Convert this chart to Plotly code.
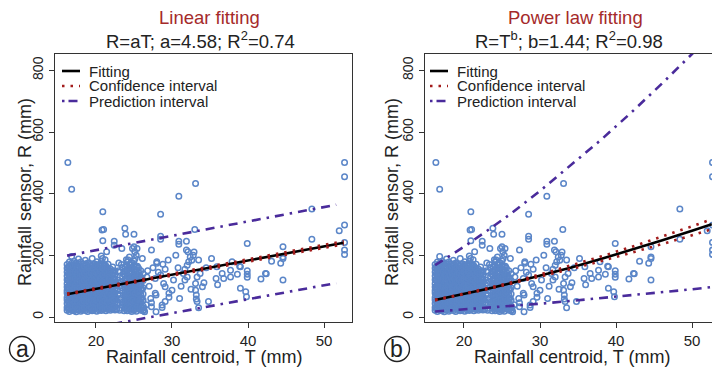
import plotly.graph_objects as go

# ---------------- data ----------------
# scattered observations (Rainfall centroid T, Rainfall sensor R)
sparse_T = [16.3, 16.8, 30.9, 33.1, 52.7, 52.7, 20.9, 20.8, 21.0, 20.9, 22.4, 22.4, 23.8, 23.9,
            25.0, 25.0, 25.1, 21.4, 21.2, 24.0, 23.4, 24.8, 25.4, 26.1, 28.5, 28.5, 28.5, 33.0,
            30.9, 30.9, 31.9, 31.9, 32.9, 32.4, 32.6, 32.2, 32.0, 28.0, 28.8, 29.1, 28.5, 27.3,
            27.8, 28.9, 29.1, 30.2, 27.9, 29.6, 29.6, 28.7, 28.7, 27.3, 27.3, 27.9, 31.5, 31.7,
            31.7, 33.1, 33.3, 33.2, 33.2, 33.1, 34.0, 34.2, 33.7, 35.8, 36.6, 36.8, 37.7, 37.7,
            38.6, 37.9, 38.9, 39.9, 39.0, 39.7, 39.8, 30.0, 35.9, 39.9, 39.9, 39.9, 41.7, 42.4,
            43.1, 44.3, 44.6, 44.6, 44.6, 48.4, 48.4, 52.0, 52.7, 52.7, 52.7, 52.7,
            32.1, 32.8, 33.5, 28.0, 26.7, 26.3, 26.4, 39.0, 42.3, 44.6, 26.3, 27.8, 29.1, 33.3,
            26.8, 27.0, 27.2, 26.6, 27.5, 28.2, 29.5, 30.5, 30.8, 31.2, 31.0, 32.5, 32.0, 34.5,
            35.2, 36.0, 34.8, 33.5,
            22.8, 22.9, 23.0, 23.1, 23.2, 23.3, 23.4, 23.5, 23.0, 23.5,
            22.75, 22.8, 22.85, 22.9, 23.0, 23.1, 23.2, 23.3, 23.4, 23.5, 23.6, 23.65, 23.7,
            23.6, 22.95, 23.35]
sparse_R = [501, 414, 392, 433, 501, 455, 341, 282, 284, 247, 246, 233, 288, 268,
            268, 228, 212, 212, 186, 186, 222, 222, 222, 190, 333, 262, 252, 284,
            246, 236, 246, 217, 211, 195, 184, 179, 168, 179, 171, 155, 136, 217,
            125, 109, 98, 120, 71, 77, 64, 39, 31, 46, 33, 17, 141, 155,
            120, 109, 130, 71, 58, 87, 98, 111, 141, 125, 141, 125, 152, 130,
            139, 179, 165, 238, 93, 82, 66, 87, 163, 150, 139, 129, 123, 140,
            181, 174, 228, 195, 120, 252, 350, 280, 298, 242, 217, 203,
            212, 200, 185, 174, 130, 29, 17, 163, 141, 190, 23, 77, 50, 50,
            150, 100, 60, 40, 160, 145, 185, 200, 160, 100, 60, 90, 130, 160,
            190, 105, 50, 30,
            40, 75, 110, 145, 28, 60, 95, 130, 175, 48,
            25, 60, 88, 120, 150, 22, 85, 115, 40, 160, 70, 105, 20,
            140, 45, 170]

# dense cluster of observations, read column by column: T value -> R values
cluster_T = [16.2, 16.5, 16.8, 17.1, 17.4, 17.7, 18.0, 18.3, 18.6, 18.9, 19.2, 19.5, 19.8,
             20.1, 20.4, 20.7, 21.0, 21.3, 21.6, 21.9, 22.2, 22.5,
             23.8, 24.1, 24.4, 24.7, 25.0, 25.3, 25.6, 25.9, 26.2,
             16.35, 16.65, 16.95, 17.25, 17.55, 17.85, 18.15, 18.45, 18.75, 19.05, 19.35,
             19.65, 19.95, 20.25, 20.55, 20.85, 21.15, 21.45, 21.75, 22.05, 22.35,
             23.95, 24.25, 24.55, 24.85, 25.15, 25.45, 25.75, 26.05]
cluster_R = [
    [22, 31, 44, 55, 63, 78, 86, 97, 108, 121, 133, 146, 158, 170],
    [18, 27, 38, 49, 60, 71, 83, 92, 104, 115, 128, 139, 152, 165, 178],
    [24, 35, 46, 57, 67, 76, 89, 101, 113, 124, 135, 148, 161, 174, 196],
    [20, 29, 41, 52, 64, 74, 85, 96, 107, 119, 131, 143, 155, 168, 181],
    [17, 26, 37, 48, 59, 70, 81, 93, 104, 116, 127, 139, 150, 163, 176],
    [23, 33, 45, 56, 66, 78, 88, 99, 111, 122, 134, 146, 158, 171, 188],
    [19, 30, 40, 51, 62, 73, 84, 95, 106, 118, 129, 141, 153, 165, 178],
    [25, 36, 47, 58, 69, 80, 91, 102, 113, 125, 137, 149, 160, 173],
    [21, 32, 43, 54, 65, 76, 87, 98, 109, 121, 132, 144, 156, 168, 184],
    [18, 28, 39, 50, 61, 72, 83, 94, 105, 117, 128, 140, 151, 163, 175],
    [24, 34, 45, 56, 67, 78, 89, 100, 111, 123, 135, 146, 158, 170],
    [20, 30, 41, 52, 63, 74, 85, 96, 108, 119, 131, 142, 154, 166, 190],
    [26, 37, 48, 59, 70, 81, 92, 103, 114, 126, 137, 149, 161, 173],
    [19, 29, 40, 51, 62, 73, 84, 95, 106, 118, 129, 141, 153, 165, 179],
    [23, 34, 45, 56, 67, 78, 89, 100, 111, 123, 134, 146, 158, 170],
    [21, 31, 42, 53, 64, 75, 86, 97, 108, 120, 131, 143, 155, 168, 182, 198],
    [25, 36, 47, 58, 69, 80, 91, 102, 113, 125, 136, 148, 160, 172],
    [20, 30, 41, 52, 63, 74, 85, 96, 107, 119, 130, 142, 154, 166],
    [24, 35, 46, 57, 68, 79, 90, 101, 112, 124, 135, 147, 159, 171],
    [22, 32, 43, 54, 65, 76, 87, 98, 109, 121, 132, 144, 156],
    [26, 37, 48, 59, 70, 81, 92, 103, 114, 126, 138, 150, 162],
    [23, 34, 45, 56, 67, 78, 89, 100, 112, 124, 136, 149],
    [30, 42, 55, 68, 80, 93, 106, 120, 134, 148, 162],
    [20, 33, 46, 58, 71, 84, 97, 110, 123, 137, 150, 165, 178],
    [25, 37, 50, 62, 75, 88, 101, 114, 127, 141, 155, 170, 195],
    [18, 29, 41, 53, 66, 79, 92, 105, 118, 131, 145, 160, 176],
    [23, 35, 47, 60, 73, 86, 99, 112, 125, 139, 153, 168, 182],
    [19, 31, 43, 56, 69, 82, 95, 108, 121, 135, 149, 163, 200],
    [26, 39, 52, 65, 78, 91, 104, 117, 131, 145, 158],
    [22, 34, 47, 60, 74, 88, 102, 116, 130, 150],
    [20, 36, 55, 75, 95, 118, 140],
    [28, 50, 73, 95, 118, 140, 163],
    [33, 55, 77, 99, 122, 145, 168],
    [22, 43, 66, 88, 110, 132, 155],
    [35, 58, 80, 102, 125, 147, 170],
    [27, 49, 71, 93, 116, 138, 161],
    [38, 60, 82, 105, 127, 150, 172],
    [24, 46, 68, 90, 112, 135, 158],
    [30, 52, 75, 97, 119, 142, 165],
    [36, 58, 80, 103, 125, 148, 170],
    [26, 48, 70, 92, 114, 137, 160],
    [32, 54, 76, 98, 121, 143, 166],
    [23, 45, 67, 89, 112, 134, 157],
    [34, 56, 78, 100, 123, 146, 168],
    [28, 50, 72, 94, 116, 139, 162],
    [37, 59, 81, 104, 126, 149, 172],
    [25, 47, 69, 91, 114, 136, 159, 190],
    [31, 53, 75, 97, 120, 142, 165],
    [27, 49, 71, 93, 115, 138, 160],
    [35, 57, 79, 101, 124, 146],
    [29, 51, 73, 95, 118, 140],
    [33, 55, 77, 99, 121, 143],
    [25, 50, 75, 100, 126, 152],
    [28, 52, 77, 103, 129, 156, 185],
    [22, 47, 72, 97, 123, 149, 172],
    [30, 55, 80, 106, 132, 158],
    [26, 51, 76, 102, 128, 156, 190],
    [33, 58, 84, 110, 138, 165],
    [28, 54, 80, 108, 135],
    [30, 62, 90, 125],
]

# linear model curves (read values)
lin_T = [16.2, 52.6]
lin_fit = [74, 241]
lin_ci_up = [76, 246]
lin_ci_lo = [72, 236]
lin_pi_T = [16.2, 51.6]
lin_pi_up = [199, 364]
lin_pi_lo = [-50, 110]

# power-law model curves (read values)
pow_T = [16.2, 18, 20, 23, 26, 30, 34, 38, 42, 46, 50, 52.6]
pow_fit = [55, 64, 75, 91, 109, 134, 160, 188, 217, 248, 280, 301]
pow_ci_up = [56, 65, 76, 93, 111, 138, 166, 196, 227, 260, 294, 317]
pow_ci_lo = [54, 63, 73, 90, 107, 130, 155, 181, 208, 236, 265, 285]
pow_pi_up = [168, 196, 228, 279, 332, 409, 490, 574, 663, 756, 853, 917]
pow_pi_lo = [18, 21, 24, 29, 35, 43, 52, 61, 70, 80, 90, 97]

x_ticks = [20, 30, 40, 50]
y_ticks = [0, 200, 400, 600, 800]

# ---------------- build ----------------
W, H = 712, 369
FONT = "Liberation Sans, Arial, sans-serif"
C_PTS = "#5b86c8"
C_CI = "#a31c1c"
C_PI = "#4a2b9b"
C_AX = "#333333"

obs_T = list(sparse_T)
obs_R = list(sparse_R)
for t, rs in zip(cluster_T, cluster_R):
    for r in rs:
        obs_T.append(t)
        obs_R.append(r)


def px(x):
    return x / W


def py(y):
    return 1 - y / H


fig = go.Figure()

for xa, ya, fT, fit, cu, cl, pT, pu, pl in [
    ("x", "y", lin_T, lin_fit, lin_ci_up, lin_ci_lo, lin_pi_T, lin_pi_up, lin_pi_lo),
    ("x2", "y2", pow_T, pow_fit, pow_ci_up, pow_ci_lo, pow_T, pow_pi_up, pow_pi_lo),
]:
    fig.add_trace(go.Scatter(x=obs_T, y=obs_R, mode="markers", xaxis=xa, yaxis=ya,
                             marker=dict(symbol="circle-open", size=5.5, color=C_PTS,
                                         line=dict(width=1.5, color=C_PTS)),
                             showlegend=False, hoverinfo="skip"))
    for yy in (pu, pl):
        fig.add_trace(go.Scatter(x=pT, y=yy, mode="lines", xaxis=xa, yaxis=ya,
                                 line=dict(color=C_PI, width=2.6, dash="9px,6px,2.5px,6px"),
                                 showlegend=False, hoverinfo="skip"))
    fig.add_trace(go.Scatter(x=fT, y=fit, mode="lines", xaxis=xa, yaxis=ya,
                             line=dict(color="black", width=2.6),
                             showlegend=False, hoverinfo="skip"))
    for yy in (cu, cl):
        fig.add_trace(go.Scatter(x=fT, y=yy, mode="lines", xaxis=xa, yaxis=ya,
                                 line=dict(color=C_CI, width=2.6, dash="2.5px,6px"),
                                 showlegend=False, hoverinfo="skip"))

ydom = [1 - 322 / H, 1 - 54 / H]
common_x = dict(tickvals=x_ticks, ticks="outside", ticklen=5, tickwidth=1.3, tickcolor=C_AX,
                showline=True, linecolor=C_AX, linewidth=1.4, showgrid=False, zeroline=False,
                tickfont=dict(size=15, color="#222", family=FONT))
common_y = dict(tickvals=y_ticks, ticks="outside", ticklen=5, tickwidth=1.3, tickcolor=C_AX,
                showline=True, linecolor=C_AX, linewidth=1.4, showgrid=False, zeroline=False,
                tickangle=-90, domain=ydom, range=[-16.2, 853],
                tickfont=dict(size=14, color="#222", family=FONT))

fig.update_layout(
    width=W, height=H, margin=dict(l=0, r=0, t=0, b=0),
    paper_bgcolor="white", plot_bgcolor="white",
    font=dict(family=FONT, color="#222"),
    xaxis=dict(domain=[55 / W, 352 / W], range=[14.61, 53.68], anchor="y", mirror=True, **common_x),
    yaxis=dict(anchor="x", mirror=True, **common_y),
    xaxis2=dict(domain=[425 / W, 1.0], range=[14.87, 52.63], anchor="y2", mirror=True, **common_x),
    yaxis2=dict(anchor="x2", mirror=False, **common_y),
)

ann = []
shapes = []


def text(x, y, s, size, color="#222", angle=0, xanchor="center"):
    ann.append(dict(x=px(x), y=py(y), xref="paper", yref="paper", text=s, showarrow=False,
                    xanchor=xanchor, yanchor="middle", textangle=angle,
                    font=dict(size=size, color=color, family=FONT)))


# titles
text(209, 17, "Linear fitting", 18.5, "#a52a2a")
text(200, 40, "R=aT; a=4.58; R<sup>2</sup>=0.74", 18.5)
text(575, 17, "Power law fitting", 18.5, "#a52a2a")
text(569, 40, "R=T<sup>b</sup>; b=1.44; R<sup>2</sup>=0.98", 18.5)

# axis titles and panel letters
for cx, ylab_x, letter, lx in [(204, 25, "a", 22), (572, 392, "b", 397)]:
    text(cx, 357, "Rainfall centroid, T (mm)", 18)
    text(ylab_x, 192, "Rainfall sensor, R (mm)", 18, angle=-90)
    text(lx, 349, letter, 23)
    shapes.append(dict(type="circle", xref="paper", yref="paper",
                       x0=px(lx - 12.5), x1=px(lx + 12.5), y0=py(349 + 12.5), y1=py(349 - 12.5),
                       line=dict(color="#222", width=1.4)))

# legends
for x0 in (62, 430):
    items = [("Fitting", "black", "solid", 71),
             ("Confidence interval", C_CI, "2.5px,6px", 86),
             ("Prediction interval", C_PI, "2.5px,4px,9px,4px", 101)]
    for lab, col, dash, yy in items:
        shapes.append(dict(type="line", xref="paper", yref="paper",
                           x0=px(x0), x1=px(x0 + 18), y0=py(yy), y1=py(yy),
                           line=dict(color=col, width=2.6, dash=dash)))
        text(x0 + 25, yy, lab, 15, xanchor="left")

fig.update_layout(annotations=ann, shapes=shapes)
fig.write_html("out.html")
